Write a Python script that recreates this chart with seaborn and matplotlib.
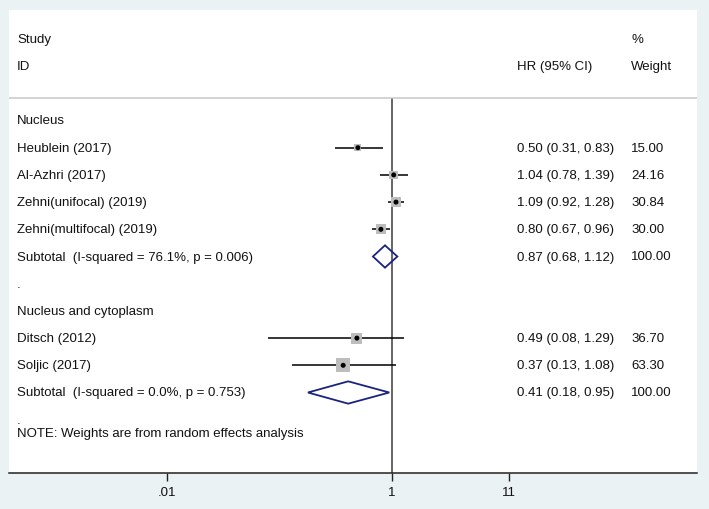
import matplotlib
matplotlib.use("Agg")
import matplotlib.pyplot as plt
import matplotlib.transforms as mtransforms
import seaborn as sns
import numpy as np
import pandas as pd

# study-level data
groups = ["Nucleus"] * 4 + ["Nucleus and cytoplasm"] * 2
studies = ["Heublein (2017)", "Al-Azhri (2017)", "Zehni(unifocal) (2019)",
           "Zehni(multifocal) (2019)", "Ditsch (2012)", "Soljic (2017)"]
hr = [0.50, 1.04, 1.09, 0.80, 0.49, 0.37]
lo = [0.31, 0.78, 0.92, 0.67, 0.08, 0.13]
hi = [0.83, 1.39, 1.28, 0.96, 1.29, 1.08]
weight = [15.00, 24.16, 30.84, 30.00, 36.70, 63.30]

# subgroup pooled estimates
sub_groups = ["Nucleus", "Nucleus and cytoplasm"]
sub_labels = ["Subtotal  (I-squared = 76.1%, p = 0.006)",
              "Subtotal  (I-squared = 0.0%, p = 0.753)"]
sub_hr = [0.87, 0.41]
sub_lo = [0.68, 0.18]
sub_hi = [1.12, 0.95]

xticks = [0.01, 1, 11]
xtick_labels = [".01", "1", "11"]

df = pd.DataFrame({"group": groups, "study": studies, "hr": hr,
                   "lo": lo, "hi": hi, "weight": weight})

# build the row layout: group header, studies, subtotal, spacer
rows = []
for g, lab, e, l, h in zip(sub_groups, sub_labels, sub_hr, sub_lo, sub_hi):
    rows.append(("header", g, None))
    for _, r in df[df["group"] == g].iterrows():
        rows.append(("study", r["study"], r))
    rows.append(("sub", lab, (e, l, h)))
    rows.append(("dot", ".", None))
df["y"] = [i for i, r in enumerate(rows) if r[0] == "study"]

bg = "#eaf2f3"
fig = plt.figure(figsize=(7.09, 5.10), dpi=100, facecolor=bg)
sns.set_style("white")
plt.rcParams["font.family"] = ["Liberation Sans", "DejaVu Sans"]
fs = 9.5

W, H = 709, 510
left, right, top, bot = 9, 697, 11, 474
ax = fig.add_axes([left / W, 1 - bot / H, (right - left) / W, (bot - top) / H])
ax.set_facecolor("white")

ax.set_xscale("log")
ax.set_xlim(10 ** -3.3996, 10 ** 2.7105)
# y in row units: 27.2 px per row, first row (Nucleus) at 121.5 px
rp = 27.2
y_top = (top - 121.5) / rp
y_bot = (bot - 121.5) / rp
ax.set_ylim(y_bot, y_top)

# CI lines
ax.hlines(df["y"], df["lo"], df["hi"], color="black", lw=1.1, zorder=2)

# weight squares (area proportional to weight)
sns.scatterplot(data=df, x="hr", y="y", size="weight", sizes=(0, 105),
                size_norm=(0, 63.3), marker="s", color="#bdbdbd",
                edgecolor="none", legend=False, ax=ax, zorder=3)
# point estimates
sns.scatterplot(data=df, x="hr", y="y", s=13, color="black",
                edgecolor="none", legend=False, ax=ax, zorder=4)

# subtotal diamonds
for i, (kind, lab, val) in enumerate(rows):
    if kind == "sub":
        e, l, h = val
        dh = 0.41
        ax.fill([l, e, h, e, l], [i, i - dh, i, i + dh, i],
                facecolor="none", edgecolor="#1b237f", lw=1.3, zorder=3)

# null line
y_line = (99 - 121.5) / rp
ax.vlines(1, y_line, y_bot, color="#3a3a3a", lw=1.1, zorder=1)
# header separator
ax.axhline(y_line, color="#c8c8c8", lw=1.1, zorder=1)

# text columns
tr = mtransforms.blended_transform_factory(ax.transAxes, ax.transData)
x_lab = (17 - left) / (right - left)
x_hr = (517 - left) / (right - left)
x_w = (631 - left) / (right - left)
tk = dict(fontsize=fs, va="center", ha="left", transform=tr, color="#111111")

ax.text(x_lab, (40 - 121.5) / rp, "Study", **tk)
ax.text(x_lab, (67 - 121.5) / rp, "ID", **tk)
ax.text(x_hr, (67 - 121.5) / rp, "HR (95% CI)", **tk)
ax.text(x_w, (40 - 121.5) / rp, "%", **tk)
ax.text(x_w, (67 - 121.5) / rp, "Weight", **tk)

for i, (kind, lab, val) in enumerate(rows):
    ax.text(x_lab, i, lab, **tk)
    if kind == "study":
        ax.text(x_hr, i, f"{val['hr']:.2f} ({val['lo']:.2f}, {val['hi']:.2f})", **tk)
        ax.text(x_w, i, f"{val['weight']:.2f}", **tk)
    elif kind == "sub":
        e, l, h = val
        ax.text(x_hr, i, f"{e:.2f} ({l:.2f}, {h:.2f})", **tk)
        ax.text(x_w, i, "100.00", **tk)

ax.text(x_lab, len(rows) - 1 + 0.5, "NOTE: Weights are from random effects analysis", **tk)

# axes styling
for s in ["top", "right", "left"]:
    ax.spines[s].set_visible(False)
ax.spines["bottom"].set_color("#222222")
ax.spines["bottom"].set_linewidth(1.1)
ax.set_xticks(xticks)
ax.set_xticklabels(xtick_labels, fontsize=fs, color="#111111")
ax.xaxis.set_minor_locator(matplotlib.ticker.NullLocator())
ax.tick_params(axis="x", direction="out", length=5.5, width=1, color="#222222",
               pad=4, bottom=True)
ax.set_yticks([])
ax.set_xlabel("")
ax.set_ylabel("")

fig.savefig("out.png", dpi=100, facecolor=bg)
